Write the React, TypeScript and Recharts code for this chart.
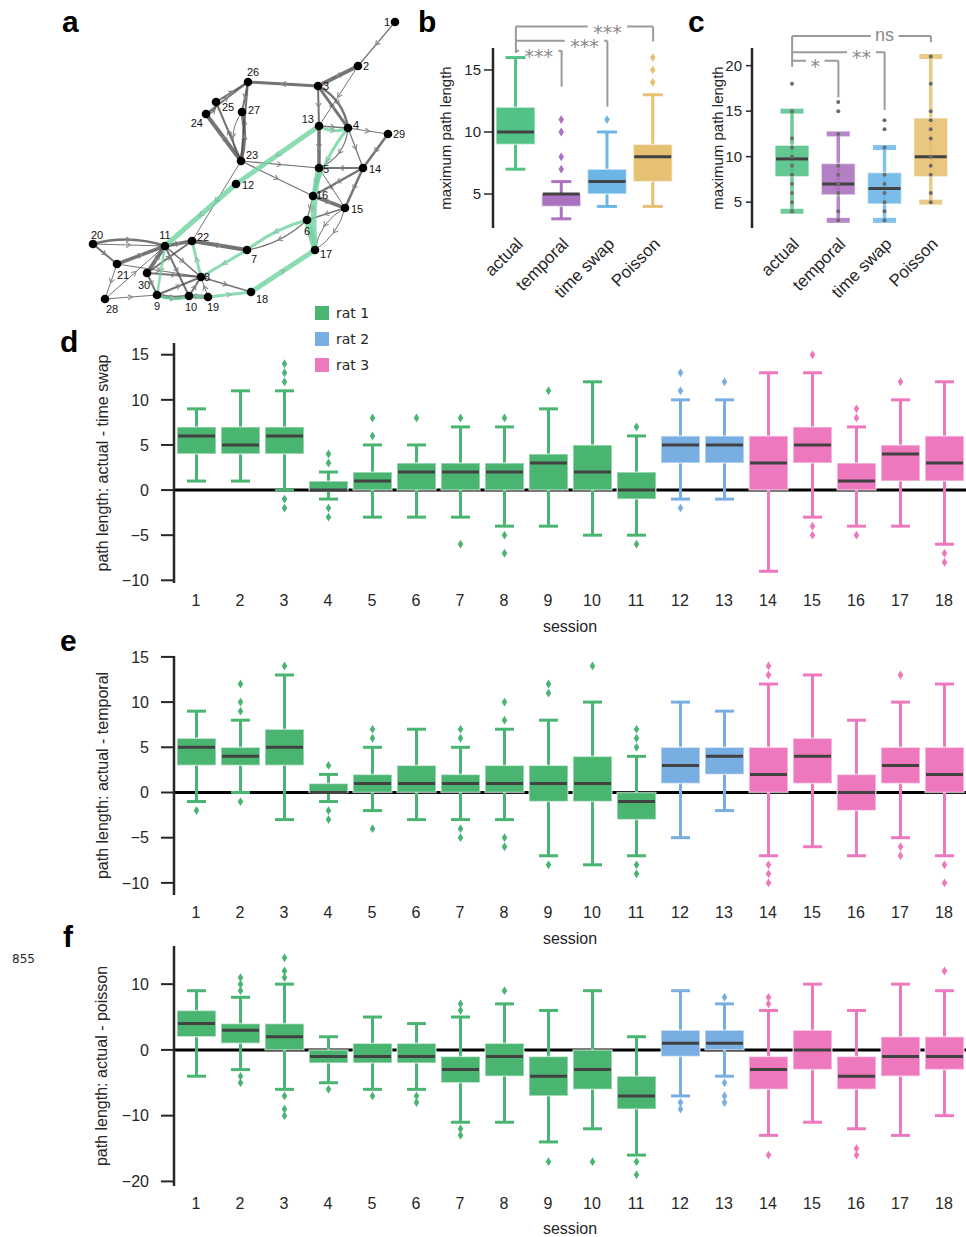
import React from "react";
import {
  ComposedChart, ScatterChart, Scatter, Bar, XAxis, YAxis, ReferenceLine, Legend,
} from "recharts";

const FONT = "'Liberation Sans', Arial, Helvetica, sans-serif";
const INK = "#262626";
const MEDIAN = "#424242";
const BRACKET = "#9a9a9a";

// ---------- a: transition graph (layout units, origin at the panel corner) ----------
const NODE_ID = [1, 2, 3, 4, 5, 6, 7, 8, 9, 10, 11, 12, 13, 14, 15, 16, 17, 18, 19, 20, 21, 22, 23, 24, 25, 26, 27, 28, 29, 30];
const NODE_X = [310, 273, 233, 263, 234, 222, 162, 116, 72, 104, 80, 151, 234, 278, 260, 228, 230, 166, 123, 8, 32, 107, 156, 121, 131, 163, 157, 20, 303, 62];
const NODE_Y = [12, 56, 76, 118, 158, 210, 240, 267, 285, 286, 236, 174, 116, 158, 198, 186, 240, 282, 287, 234, 254, 231, 151, 104, 92, 72, 102, 289, 124, 263];

// [from, to, weight, bend]
const EDGES: number[][] = [
  [1, 2, 1.2, 0], [2, 3, 4, 0], [2, 13, 1, 0], [3, 26, 3, 0], [3, 13, 2, 0],
  [3, 4, 3, 0], [3, 4, 2.5, -0.25], [13, 5, 3.5, 0], [13, 4, 1.5, 0], [4, 29, 1, 0],
  [29, 14, 2.5, 0], [4, 14, 1.2, 0], [4, 5, 1.2, -0.3], [14, 5, 2, 0], [14, 16, 2.5, 0],
  [14, 15, 2.5, 0], [5, 15, 1, 0], [5, 16, 1, 0], [23, 5, 1.2, 0], [23, 16, 1.2, 0],
  [16, 15, 3.5, 0], [16, 6, 1.2, 0], [15, 6, 1.5, 0], [15, 17, 1, 0.25], [15, 17, 1, -0.2],
  [6, 7, 1.2, -0.15], [23, 22, 1, 0], [23, 26, 2, 0], [23, 27, 3.5, 0.12], [27, 23, 1, 0.35],
  [23, 25, 2, 0], [23, 24, 4, 0], [24, 25, 1.5, 0.5], [24, 26, 2, 0], [25, 26, 2, 0],
  [26, 27, 2, 0], [20, 11, 2.5, -0.15], [20, 11, 1, 0], [20, 21, 2, 0], [21, 11, 3.5, 0],
  [21, 28, 1, 0], [21, 8, 1.2, 0], [28, 9, 1, 0], [28, 11, 1, 0], [11, 22, 3.5, 0],
  [22, 7, 4, 0], [11, 10, 2, 0], [11, 30, 4, 0], [11, 8, 1.5, 0], [30, 22, 2, 0],
  [30, 8, 2, 0], [30, 9, 2, 0], [9, 8, 2, 0], [9, 10, 3.5, 0.12], [10, 19, 4, 0],
  [10, 8, 2, 0], [19, 8, 1, 0], [8, 18, 1.5, 0],
];

// decoded trajectory overlaid on the graph
const PATH_EDGES: number[][] = [
  [13, 4, 3, 0.25], [13, 12, 5, 0], [12, 11, 5, 0], [11, 9, 2.5, 0], [9, 10, 3, 0.2],
  [10, 19, 3, 0], [19, 18, 3, 0], [18, 17, 5, 0], [17, 6, 6, 0], [17, 5, 6, -0.08],
  [4, 16, 3, 0.1], [6, 7, 3, 0.1], [7, 8, 3, 0], [8, 22, 3, 0],
];

const LABEL_POS: Record<number, [number, number, string]> = {
  1: [-5, 4, "end"], 2: [5, 4, "start"], 3: [5, 4, "start"], 4: [5, 1, "start"],
  5: [4, 5, "start"], 6: [0, 15, "middle"], 7: [4, 13, "start"], 8: [3, 4, "start"],
  9: [0, 15, "middle"], 10: [2, 15, "middle"], 11: [0, -7, "middle"], 12: [6, 5, "start"],
  13: [-5, -3, "end"], 14: [6, 5, "start"], 15: [6, 5, "start"], 16: [3, 3, "start"],
  17: [5, 8, "start"], 18: [5, 11, "start"], 19: [5, 14, "middle"], 20: [4, -5, "middle"],
  21: [6, 15, "middle"], 22: [5, 0, "start"], 23: [5, -2, "start"], 24: [-3, 13, "end"],
  25: [6, 9, "start"], 26: [-1, -6, "start"], 27: [6, 2, "start"], 28: [7, 14, "middle"],
  29: [5, 4, "start"], 30: [-3, 16, "middle"],
};

// ---------- b, c: pooled maximum path length ----------
const CONDITIONS = ["actual", "temporal", "time swap", "Poisson"];
const COND_COLORS = ["#52c286", "#ab72c0", "#6cb6e6", "#e7c173"];

const B_LO = [7, 3, 4, 4];
const B_Q1 = [9, 4, 5, 6];
const B_MED = [10, 5, 6, 8];
const B_Q3 = [12, 5, 7, 9];
const B_HI = [16, 6, 10, 13];
const B_OUT = [[], [11, 10, 8, 7], [11], [14, 15, 16]];

const C_LO = [4, 3, 3, 5];
const C_Q1 = [7.8, 5.8, 4.8, 7.8];
const C_MED = [9.75, 7, 6.5, 10];
const C_Q3 = [11.25, 9.25, 8.25, 14.25];
const C_HI = [15, 12.5, 11, 21];
const C_PTS = [
  [18, 15, 12, 11, 10, 9, 8, 7, 6, 5, 4],
  [16, 15, 12.5, 9, 8, 7, 6, 4, 3],
  [14, 13, 11, 8, 7, 6, 5, 4, 3],
  [21, 18, 15, 14, 13, 12, 10, 9, 8, 6, 5],
];

const BRACKET_TO = ["temporal", "time swap", "Poisson"];
const BRACKET_LABEL_FROM = ["actual", "temporal", "temporal"];
const B_BRACKET_TEXT = ["***", "***", "***"];
const B_BRACKET_Y = [16.55, 17.35, 18.5];
const B_BRACKET_END = [13.65, 12.05, 17.3];
const B_BRACKET_LEFT = 16.37;
const C_BRACKET_TEXT = ["*", "**", "ns"];
const C_BRACKET_Y = [20.55, 21.47, 23.26];
const C_BRACKET_END = [16.53, 15.13, 22.57];
const C_BRACKET_LEFT = 19.86;

// ---------- d, e, f: per-session differences ----------
const SESSIONS = ["1", "2", "3", "4", "5", "6", "7", "8", "9", "10", "11", "12", "13", "14", "15", "16", "17", "18"];
const SESSION_RAT = [0, 0, 0, 0, 0, 0, 0, 0, 0, 0, 0, 1, 1, 2, 2, 2, 2, 2];
const RAT_NAMES = ["rat 1", "rat 2", "rat 3"];
const RAT_COLORS = ["#49b571", "#78aee2", "#ee78be"];

// actual - time swap
const D_LO = [1, 1, 0, -1, -3, -3, -3, -4, -4, -5, -5, -1, -1, -9, -3, -4, -4, -6];
const D_Q1 = [4, 4, 4, 0, 0, 0, 0, 0, 0, 0, -1, 3, 3, 0, 3, 0, 1, 1];
const D_MED = [6, 5, 6, 0, 1, 2, 2, 2, 3, 2, 0, 5, 5, 3, 5, 1, 4, 3];
const D_Q3 = [7, 7, 7, 1, 2, 3, 3, 3, 4, 5, 2, 6, 6, 6, 7, 3, 5, 6];
const D_HI = [9, 11, 11, 2, 5, 5, 7, 7, 9, 12, 6, 10, 10, 13, 13, 7, 10, 12];
const D_OUT = [[], [], [12, 13, 14, -1, -2], [3, 4, -2, -3], [6, 8], [8], [8, -6], [8, -5, -7], [11], [], [7, -6], [11, 13, -2], [12], [], [15, -4, -5], [8, 9, -5], [12], [-7, -8]];

// actual - temporal
const E_LO = [-1, 0, -3, -1, -2, -3, -3, -3, -7, -8, -7, -5, -2, -7, -6, -7, -5, -7];
const E_Q1 = [3, 3, 3, 0, 0, 0, 0, 0, -1, -1, -3, 1, 2, 0, 1, -2, 1, 0];
const E_MED = [5, 4, 5, 0, 1, 1, 1, 1, 1, 1, -1, 3, 4, 2, 4, 0, 3, 2];
const E_Q3 = [6, 5, 7, 1, 2, 3, 2, 3, 3, 4, 0, 5, 5, 5, 6, 2, 5, 5];
const E_HI = [9, 8, 13, 2, 5, 7, 5, 7, 8, 10, 4, 10, 9, 12, 13, 8, 10, 12];
const E_OUT = [[-2], [9, 10, 12, -1], [14], [3, -2, -3], [6, 7, -4], [], [6, 7, -4, -5], [8, 10, -5, -6], [11, 12, -8], [14], [5, 6, 7, -8, -9], [], [], [13, 14, -8, -9, -10], [], [], [13, -6, -7], [-8, -10]];

// actual - poisson
const F_LO = [-4, -3, -6, -5, -6, -6, -11, -11, -14, -12, -16, -7, -4, -13, -11, -12, -13, -10];
const F_Q1 = [2, 1, 0, -2, -2, -2, -5, -4, -7, -6, -9, -1, 0, -6, -3, -6, -4, -3];
const F_MED = [4, 3, 2, -1, -1, -1, -3, -1, -4, -3, -7, 1, 1, -3, 0, -4, -1, -1];
const F_Q3 = [6, 4, 4, 0, 1, 1, -1, 1, -1, 0, -4, 3, 3, -1, 3, -1, 2, 2];
const F_HI = [9, 8, 10, 2, 5, 4, 5, 7, 6, 9, 2, 9, 7, 6, 10, 6, 10, 9];
const F_OUT = [[], [9, 10, 11, -4, -5], [11, 12, 14, -7, -9, -10], [-6], [-7], [-7, -8], [6, 7, -12, -13], [9], [-17], [-17], [-17, -19], [-8, -9], [8, -5, -7, -8], [7, 8, -16], [], [-15, -16], [], [12]];

// ---------- helpers ----------
const minus = (v: number) => (v < 0 ? `\u2212${Math.abs(v)}` : `${v}`);
const diamond = (cx: number, cy: number, w: number, h: number) =>
  `M${cx},${cy - h}L${cx + w},${cy}L${cx},${cy + h}L${cx - w},${cy}Z`;
const rangeKey = (r: any) => [r.lo, r.hi];

const yTitle = (text: string, x: number, size: number) => (lp: any) => {
  const vb = lp.viewBox || {};
  const cy = vb.y + vb.height / 2;
  return (
    <text x={x} y={cy} transform={`rotate(-90 ${x} ${cy})`} textAnchor="middle"
          dominantBaseline="central" fontSize={size} fill={INK} fontFamily={FONT}>
      {text}
    </text>
  );
};

const xTitle = (text: string, dy: number) => (lp: any) => {
  const vb = lp.viewBox || {};
  return (
    <text x={vb.x + vb.width / 2} y={vb.y + dy} textAnchor="middle" dominantBaseline="central"
          fontSize={16} fill={INK} fontFamily={FONT}>
      {text}
    </text>
  );
};

// one box-and-whisker glyph; pixel positions come from the bar's own [lo, hi] extent
function drawBox(p: any, color: string, opt: { cap: number; whisker: number; style: "plain" | "strip" }) {
  const { x, y, width, height, payload: d } = p;
  if (!d || !Number.isFinite(y) || !Number.isFinite(height)) return <g />;
  const cx = x + width / 2;
  const k = height / (d.hi - d.lo);
  const yOf = (v: number) => y + (d.hi - v) * k;
  const top = yOf(d.q3);
  const bot = yOf(d.q1);
  const c = opt.cap / 2;
  return (
    <g>
      <line x1={cx} x2={cx} y1={yOf(d.hi)} y2={yOf(d.lo)} stroke={color} strokeWidth={opt.whisker}
            strokeOpacity={opt.style === "strip" ? 0.85 : 1} />
      {opt.style === "strip" ? (
        <>
          <rect x={cx - c} y={yOf(d.hi) - 2.5} width={opt.cap} height={5} fill={color} fillOpacity={0.85} />
          <rect x={cx - c} y={yOf(d.lo) - 2.5} width={opt.cap} height={5} fill={color} fillOpacity={0.85} />
        </>
      ) : (
        <>
          <line x1={cx - c} x2={cx + c} y1={yOf(d.hi)} y2={yOf(d.hi)} stroke={color} strokeWidth={3} />
          <line x1={cx - c} x2={cx + c} y1={yOf(d.lo)} y2={yOf(d.lo)} stroke={color} strokeWidth={3} />
        </>
      )}
      <rect x={x} y={top} width={width} height={Math.max(bot - top, 0)} fill={color}
            fillOpacity={opt.style === "strip" ? 0.9 : 1}
            stroke="#ffffff" strokeOpacity={0.55} strokeWidth={1.5} />
      <line x1={x + 1} x2={x + width - 1} y1={yOf(d.med)} y2={yOf(d.med)} stroke={MEDIAN} strokeWidth={3} />
      {(d.out || []).map((v: number, i: number) => (
        <path key={`o${i}`} d={diamond(cx, yOf(v), 2.8, 4.4)} fill={color} />
      ))}
      {(d.pts || []).map((v: number, i: number) => (
        <circle key={`p${i}`} cx={cx} cy={yOf(v)} r={2} fill="#6b6b6b" />
      ))}
    </g>
  );
}

const sessionBox = (p: any) => drawBox(p, RAT_COLORS[p.payload?.rat ?? 0], { cap: 19, whisker: 3, style: "plain" });
const summaryBoxB = (p: any) => drawBox(p, COND_COLORS[p.payload?.k ?? 0], { cap: 20, whisker: 3, style: "plain" });
const summaryBoxC = (p: any) => drawBox(p, COND_COLORS[p.payload?.k ?? 0], { cap: 23, whisker: 3.5, style: "strip" });

// ---------- graph pieces ----------
const nodeAt = (id: number) => ({ x: NODE_X[id - 1], y: NODE_Y[id - 1] });

const edgeShape = (w: number, bend: number, stroke: string, opacity: number, arrow: string) => (p: any) => {
  const { x1, y1, x2, y2 } = p;
  if (![x1, y1, x2, y2].every(Number.isFinite)) return <g />;
  const dx = x2 - x1;
  const dy = y2 - y1;
  const len = Math.hypot(dx, dy) || 1;
  const nx = -dy / len;
  const ny = dx / len;
  const qx = (x1 + x2) / 2 + nx * bend * len;
  const qy = (y1 + y2) / 2 + ny * bend * len;
  const mx = 0.25 * x1 + 0.5 * qx + 0.25 * x2;
  const my = 0.25 * y1 + 0.5 * qy + 0.25 * y2;
  const ux = dx / len;
  const uy = dy / len;
  const chevron = `M${mx - ux * 3 + nx * 2.6},${my - uy * 3 + ny * 2.6}L${mx + ux * 1.5},${my + uy * 1.5}L${mx - ux * 3 - nx * 2.6},${my - uy * 3 - ny * 2.6}`;
  return (
    <g>
      <path d={`M${x1},${y1}Q${qx},${qy} ${x2},${y2}`} fill="none" stroke={stroke}
            strokeOpacity={opacity} strokeWidth={w} strokeLinecap="round" />
      <path d={chevron} fill="none" stroke={arrow} strokeWidth={1.1} />
    </g>
  );
};

function NodeDot(p: any) {
  const { cx, cy, payload } = p;
  const [dx, dy, anchor] = LABEL_POS[payload.id] || [5, -3, "start"];
  return (
    <g>
      <circle cx={cx} cy={cy} r={4.3} fill="#000" />
      <text x={cx + dx} y={cy + dy} fontSize={11} fill="#111" fontFamily={FONT} textAnchor={anchor as any}>
        {payload.id}
      </text>
    </g>
  );
}

function GraphPanel() {
  const nodes = NODE_ID.map((id, i) => ({ id, x: NODE_X[i], y: NODE_Y[i] }));
  return (
    <ScatterChart width={320} height={305} margin={{ top: 0, right: 0, bottom: 0, left: 0 }}>
      <XAxis type="number" dataKey="x" domain={[0, 320]} hide />
      <YAxis type="number" dataKey="y" domain={[0, 305]} reversed hide />
      {EDGES.map(([a, b, w, bend], i) => (
        <ReferenceLine key={`e${i}`} ifOverflow="visible" segment={[nodeAt(a), nodeAt(b)]}
                       shape={edgeShape(w, bend, "#4d4d4d", 0.78, "#8a8a8a")} />
      ))}
      {PATH_EDGES.map(([a, b, w, bend], i) => (
        <ReferenceLine key={`g${i}`} ifOverflow="visible" segment={[nodeAt(a), nodeAt(b)]}
                       shape={edgeShape(w, bend, "#6fd3a0", 0.8, "#8fb8a0")} />
      ))}
      <Scatter data={nodes} shape={NodeDot} isAnimationActive={false} />
    </ScatterChart>
  );
}

// ---------- b / c ----------
function slantTick(p: any) {
  const { x, y, payload } = p;
  const ax = x + 8;
  const ay = y + 17;
  return (
    <text x={ax} y={ay} transform={`rotate(-45 ${ax} ${ay})`} textAnchor="end" fontSize={17}
          fill={INK} fontFamily={FONT}>
      {payload.value}
    </text>
  );
}

const bracketText = (text: string, size: number, drop: number, family: string) => (lp: any) => {
  const vb = lp.viewBox || {};
  const cx = vb.x + vb.width / 2;
  const w = text.length * size * 0.55 + 8;
  return (
    <g>
      <rect x={cx - w / 2} y={vb.y - 4} width={w} height={8} fill="#fff" />
      <text x={cx} y={vb.y + drop} textAnchor="middle" fontSize={size} fill="#8a8a8a" fontFamily={family}>
        {text}
      </text>
    </g>
  );
};

function SummaryPanel(props: {
  lo: number[]; q1: number[]; med: number[]; q3: number[]; hi: number[];
  out?: number[][]; pts?: number[][];
  domain: [number, number]; ticks: number[];
  width: number; yAxisWidth: number; marginRight: number; padLeft: number; barSize: number;
  tickSize: number; tickMargin: number; labelX: number;
  bracketText: string[]; bracketY: number[]; bracketEnd: number[]; bracketLeft: number;
  shape: (p: any) => any;
}) {
  const rows = CONDITIONS.map((name, k) => ({
    name, k, lo: props.lo[k], q1: props.q1[k], med: props.med[k], q3: props.q3[k], hi: props.hi[k],
    out: props.out ? props.out[k] : [], pts: props.pts ? props.pts[k] : [],
  }));
  const topY = props.bracketY[props.bracketY.length - 1];
  return (
    <ComposedChart width={props.width} height={310} data={rows}
                   margin={{ top: 48, right: props.marginRight, bottom: 0, left: 0 }}>
      <XAxis dataKey="name" type="category" height={82} axisLine={false} tickLine={false}
             tickSize={0} tickMargin={0} interval={0} tick={slantTick}
             padding={{ left: props.padLeft, right: 0 }} />
      <YAxis type="number" domain={props.domain} ticks={props.ticks} allowDataOverflow
             width={props.yAxisWidth} tickSize={props.tickSize} tickMargin={props.tickMargin}
             axisLine={{ stroke: INK, strokeWidth: 2.5 }} tickLine={{ stroke: INK, strokeWidth: 1.5 }}
             tick={{ fill: INK, fontSize: 15, fontFamily: FONT }}
             label={yTitle("maximum path length", props.labelX, 15)} />
      <Bar dataKey={rangeKey} barSize={props.barSize} shape={props.shape} isAnimationActive={false} />
      <ReferenceLine ifOverflow="visible" stroke={BRACKET} strokeWidth={2}
                     segment={[{ x: "actual", y: topY }, { x: "actual", y: props.bracketLeft }]} />
      {BRACKET_TO.map((to, i) => (
        <ReferenceLine key={`h${i}`} ifOverflow="visible" stroke={BRACKET} strokeWidth={2}
                       segment={[{ x: "actual", y: props.bracketY[i] }, { x: to, y: props.bracketY[i] }]} />
      ))}
      {BRACKET_TO.map((to, i) => (
        <ReferenceLine key={`v${i}`} ifOverflow="visible" stroke={BRACKET} strokeWidth={2}
                       segment={[{ x: to, y: props.bracketY[i] }, { x: to, y: props.bracketEnd[i] }]} />
      ))}
      {BRACKET_TO.map((to, i) => {
        const t = props.bracketText[i];
        const isStar = t.indexOf("*") >= 0;
        return (
          <ReferenceLine key={`t${i}`} ifOverflow="visible" stroke="none"
                         segment={[{ x: BRACKET_LABEL_FROM[i], y: props.bracketY[i] }, { x: to, y: props.bracketY[i] }]}
                         label={isStar
                           ? bracketText(t, 19, 12, "'DejaVu Sans', sans-serif")
                           : bracketText(t, 18, 5, FONT)} />
        );
      })}
    </ComposedChart>
  );
}

// ---------- d / e / f ----------
function RatLegend() {
  return (
    <div style={{ fontFamily: "'DejaVu Sans', sans-serif", fontSize: 14, color: INK }}>
      {RAT_NAMES.map((r, i) => (
        <div key={r} style={{ display: "flex", alignItems: "center", height: 26 }}>
          <span style={{ width: 14, height: 14, background: RAT_COLORS[i], marginRight: 7, display: "inline-block" }} />
          <span>{r}</span>
        </div>
      ))}
    </div>
  );
}

function SessionPanel(props: {
  lo: number[]; q1: number[]; med: number[]; q3: number[]; hi: number[]; out: number[][];
  domain: [number, number]; ticks: number[]; yLabel: string; labelX: number;
  height: number; marginTop: number; xAxisHeight: number; titleDy: number; legend?: boolean;
}) {
  const rows = SESSIONS.map((s, i) => ({
    session: s, rat: SESSION_RAT[i], lo: props.lo[i], q1: props.q1[i], med: props.med[i],
    q3: props.q3[i], hi: props.hi[i], out: props.out[i],
  }));
  return (
    <ComposedChart width={966} height={props.height} data={rows}
                   margin={{ top: props.marginTop, right: 0, bottom: 0, left: 0 }}>
      <XAxis dataKey="session" type="category" height={props.xAxisHeight} axisLine={false} tickLine={false}
             tickSize={0} tickMargin={12} interval={0}
             tick={{ fill: INK, fontSize: 16, fontFamily: FONT }}
             label={xTitle("session", props.titleDy)} />
      <YAxis type="number" domain={props.domain} ticks={props.ticks} allowDataOverflow width={174}
             tickSize={13} tickMargin={12} tickFormatter={minus}
             axisLine={{ stroke: INK, strokeWidth: 2.5 }} tickLine={{ stroke: INK, strokeWidth: 2 }}
             tick={{ fill: INK, fontSize: 16, fontFamily: FONT }}
             label={yTitle(props.yLabel, props.labelX, 16)} />
      <ReferenceLine y={0} stroke="#000" strokeWidth={3} zIndex={-50} />
      <Bar dataKey={rangeKey} barSize={39} shape={sessionBox} isAnimationActive={false} />
      {props.legend && (
        <Legend layout="vertical" align="center" verticalAlign="middle"
                wrapperStyle={{ left: 315, top: 0, width: 90 }} content={() => <RatLegend />} />
      )}
    </ComposedChart>
  );
}

function PanelLetters() {
  const letters: [string, number, number][] = [
    ["a", 62, 32], ["b", 418, 32], ["c", 688, 32], ["d", 60, 352], ["e", 60, 651], ["f", 63, 947],
  ];
  return (
    <svg width={966} height={1237} style={{ position: "absolute", left: 0, top: 0, pointerEvents: "none" }}>
      {letters.map(([t, x, y]) => (
        <text key={t} x={x} y={y} fontSize={30} fontWeight="bold" fill="#000" fontFamily={FONT}>{t}</text>
      ))}
      <text x={12} y={963} fontSize={12} fill={INK} fontFamily="'DejaVu Sans', sans-serif">855</text>
    </svg>
  );
}

export default function App() {
  return (
    <div style={{ position: "absolute", left: 0, top: 0, width: 966, height: 1237, overflow: "hidden", background: "#fff" }}>
      <div style={{ position: "absolute", left: 85, top: 10 }}>
        <GraphPanel />
      </div>
      <div style={{ position: "absolute", left: 410, top: 0 }}>
        <SummaryPanel lo={B_LO} q1={B_Q1} med={B_MED} q3={B_Q3} hi={B_HI} out={B_OUT}
                      domain={[2.26, 16.77]} ticks={[5, 10, 15]}
                      width={270} yAxisWidth={83} marginRight={4} padLeft={0} barSize={39}
                      tickSize={9} tickMargin={3} labelX={35}
                      bracketText={B_BRACKET_TEXT} bracketY={B_BRACKET_Y} bracketEnd={B_BRACKET_END}
                      bracketLeft={B_BRACKET_LEFT} shape={summaryBoxB} />
      </div>
      <div style={{ position: "absolute", left: 680, top: 0 }}>
        <SummaryPanel lo={C_LO} q1={C_Q1} med={C_MED} q3={C_Q3} hi={C_HI} pts={C_PTS}
                      domain={[2.16, 21.94]} ticks={[5, 10, 15, 20]}
                      width={286} yAxisWidth={72} marginRight={12} padLeft={17} barSize={34}
                      tickSize={6} tickMargin={4} labelX={37}
                      bracketText={C_BRACKET_TEXT} bracketY={C_BRACKET_Y} bracketEnd={C_BRACKET_END}
                      bracketLeft={C_BRACKET_LEFT} shape={summaryBoxC} />
      </div>
      <div style={{ position: "absolute", left: 0, top: 300 }}>
        <SessionPanel lo={D_LO} q1={D_Q1} med={D_MED} q3={D_Q3} hi={D_HI} out={D_OUT}
                      domain={[-10.3, 16.3]} ticks={[-10, -5, 0, 5, 10, 15]}
                      yLabel="path length: actual - time swap" labelX={102}
                      height={340} marginTop={43} xAxisHeight={57} titleDy={43} legend />
      </div>
      <div style={{ position: "absolute", left: 0, top: 616 }}>
        <SessionPanel lo={E_LO} q1={E_Q1} med={E_MED} q3={E_Q3} hi={E_HI} out={E_OUT}
                      domain={[-11.34, 15.1]} ticks={[-10, -5, 0, 5, 10, 15]}
                      yLabel="path length: actual - temporal" labelX={102}
                      height={336} marginTop={40} xAxisHeight={57} titleDy={43} />
      </div>
      <div style={{ position: "absolute", left: 0, top: 906 }}>
        <SessionPanel lo={F_LO} q1={F_Q1} med={F_MED} q3={F_Q3} hi={F_HI} out={F_OUT}
                      domain={[-20.7, 15.8]} ticks={[-20, -10, 0, 10]}
                      yLabel="path length: actual - poisson" labelX={101}
                      height={331} marginTop={40} xAxisHeight={51} titleDy={42} />
      </div>
      <PanelLetters />
    </div>
  );
}
